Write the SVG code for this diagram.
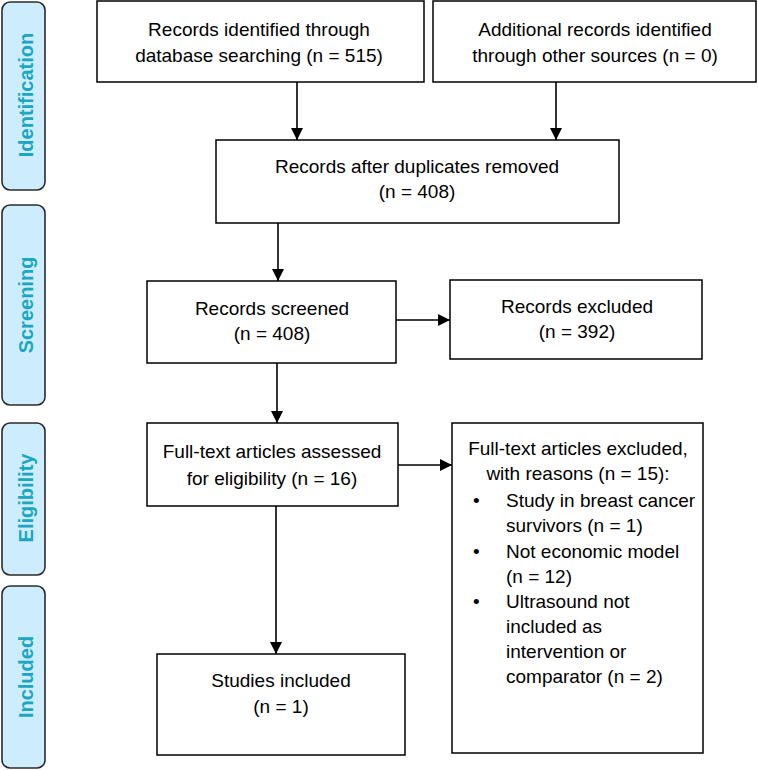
<svg xmlns="http://www.w3.org/2000/svg" width="758" height="770" viewBox="0 0 758 770">
<style>
.box{fill:#fff;stroke:#000;stroke-width:1.5}
.phase{fill:#cdedfc;stroke:#2b2b2b;stroke-width:1.6}
.t{font-family:"Liberation Sans",Arial,sans-serif;font-size:19px;fill:#000}
.c{text-anchor:middle}
.pt{font-family:"Liberation Sans",Arial,sans-serif;font-size:20px;font-weight:bold;fill:#1ba6c2;text-anchor:middle}
.ln{stroke:#000;stroke-width:1.6;fill:none;marker-end:url(#ah)}
</style>
<defs>
<marker id="ah" markerUnits="userSpaceOnUse" markerWidth="12" markerHeight="12" viewBox="0 0 12 12" refX="12" refY="6" orient="auto">
<path d="M0,0 L12,6 L0,12 Z" fill="#000"/>
</marker>
</defs>
<rect width="758" height="770" fill="#fff"/>
<g id="phase-identification"><rect class="phase" x="2" y="2" width="43" height="188" rx="8"/><text class="pt" transform="translate(33,95) rotate(-90)">Identification</text></g>
<g id="phase-screening"><rect class="phase" x="2" y="205" width="43" height="200" rx="8"/><text class="pt" transform="translate(33,305) rotate(-90)">Screening</text></g>
<g id="phase-eligibility"><rect class="phase" x="2" y="423" width="43" height="152" rx="8"/><text class="pt" transform="translate(33,498) rotate(-90)">Eligibility</text></g>
<g id="phase-included"><rect class="phase" x="2" y="586" width="43" height="182" rx="8"/><text class="pt" transform="translate(33,677) rotate(-90)">Included</text></g>

<g id="connectors">
<line class="ln" x1="297" y1="82" x2="297" y2="140"/>
<line class="ln" x1="556" y1="82" x2="556" y2="140"/>
<line class="ln" x1="278" y1="223" x2="278" y2="281"/>
<line class="ln" x1="396" y1="320" x2="450" y2="320"/>
<line class="ln" x1="277" y1="363" x2="277" y2="423"/>
<line class="ln" x1="398" y1="465" x2="452" y2="465"/>
<line class="ln" x1="276" y1="506" x2="276" y2="654"/>
</g>

<g id="n1"><rect class="box" x="97" y="1" width="327" height="81"/><text class="t c" x="259" y="36">Records identified through</text><text class="t c" x="259" y="62">database searching (n = 515)</text></g>
<g id="n2"><rect class="box" x="433" y="1" width="323" height="81"/><text class="t c" x="595" y="36">Additional records identified</text><text class="t c" x="595" y="62">through other sources (n = 0)</text></g>
<g id="n3"><rect class="box" x="216" y="140" width="403" height="83"/><text class="t c" x="417" y="173">Records after duplicates removed</text><text class="t c" x="417" y="198">(n = 408)</text></g>
<g id="n4"><rect class="box" x="147" y="281" width="249" height="82"/><text class="t c" x="272" y="315">Records screened</text><text class="t c" x="272" y="340">(n = 408)</text></g>
<g id="n5"><rect class="box" x="450" y="280" width="252" height="79"/><text class="t c" x="577" y="313">Records excluded</text><text class="t c" x="577" y="338">(n = 392)</text></g>
<g id="n6"><rect class="box" x="147" y="423" width="251" height="83"/><text class="t c" x="272" y="458">Full-text articles assessed</text><text class="t c" x="272" y="485">for eligibility (n = 16)</text></g>
<g id="n7"><rect class="box" x="452" y="423" width="251" height="330"/>
<text class="t c" x="578" y="455">Full-text articles excluded,</text>
<text class="t c" x="578" y="480">with reasons (n = 15):</text>
<text class="t" x="473" y="507">•</text><text class="t" x="506" y="507">Study in breast cancer</text>
<text class="t" x="506" y="532">survivors (n = 1)</text>
<text class="t" x="473" y="558">•</text><text class="t" x="506" y="558">Not economic model</text>
<text class="t" x="506" y="583">(n = 12)</text>
<text class="t" x="473" y="608">•</text><text class="t" x="506" y="608">Ultrasound not</text>
<text class="t" x="506" y="633">included as</text>
<text class="t" x="506" y="658">intervention or</text>
<text class="t" x="506" y="683">comparator (n = 2)</text>
</g>
<g id="n8"><rect class="box" x="157" y="654" width="248" height="101"/><text class="t c" x="281" y="687">Studies included</text><text class="t c" x="281" y="713">(n = 1)</text></g>
</svg>
